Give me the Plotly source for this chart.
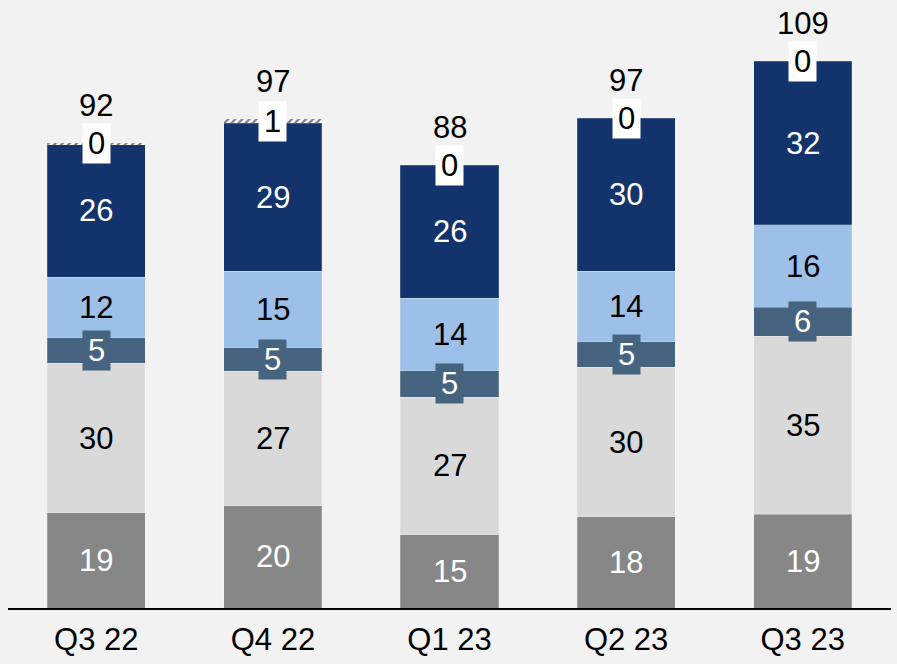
import plotly.graph_objects as go

categories = ["Q3 22", "Q4 22", "Q1 23", "Q2 23", "Q3 23"]
seg_grey = [18.9, 20.3, 14.6, 18.1, 18.6]
seg_lightgrey = [29.8, 26.8, 27.3, 29.8, 35.4]
seg_slate = [5.0, 4.7, 5.3, 5.0, 5.8]
seg_lightblue = [12.1, 15.2, 14.4, 14.1, 16.4]
seg_navy = [26.4, 29.4, 26.4, 30.4, 32.5]
seg_hatch = [0.2, 0.8, 0.0, 0.0, 0.0]
totals = [92, 97, 88, 97, 109]

series = [
    ("grey", seg_grey, "#878787", "white", None),
    ("lightgrey", seg_lightgrey, "#d9d9d9", "black", None),
    ("slate", seg_slate, "#46637f", "white", "#46637f"),
    ("lightblue", seg_lightblue, "#9dc0e8", "black", None),
    ("navy", seg_navy, "#12336b", "white", None),
]

FONT = "Liberation Sans, Arial, sans-serif"
FS = 31

fig = go.Figure()
annotations = []
cum = [0.0] * len(categories)
for name, vals, color, tcolor, bg in series:
    fig.add_trace(go.Bar(x=categories, y=vals, name=name,
                         marker=dict(color=color, line=dict(width=0.8, color="rgba(255,255,255,0.25)")),
                         hoverinfo="skip"))
    for i, v in enumerate(vals):
        mid = cum[i] + v / 2
        a = dict(x=categories[i], y=mid, text=str(round(v)), showarrow=False,
                 font=dict(family=FONT, size=FS, color=tcolor), xanchor="center", yanchor="middle")
        if bg:
            a.update(bgcolor=bg, borderpad=0, width=27, height=39)
        annotations.append(a)
        cum[i] += v

fig.add_trace(go.Bar(x=categories, y=seg_hatch, name="other",
                     marker=dict(color="white", line=dict(width=0),
                                 pattern=dict(shape="/", fgcolor="black", bgcolor="white", size=5, solidity=0.45)),
                     hoverinfo="skip"))
for i, v in enumerate(seg_hatch):
    annotations.append(dict(x=categories[i], y=cum[i] + v / 2, text=str(round(v)), showarrow=False,
                            font=dict(family=FONT, size=FS, color="black"), bgcolor="white", borderpad=0,
                            width=27, height=39, xanchor="center", yanchor="middle"))
    cum[i] += v

for i, t in enumerate(totals):
    annotations.append(dict(x=categories[i], y=cum[i], text=str(t), showarrow=False, yshift=38,
                            font=dict(family=FONT, size=FS, color="black"), xanchor="center", yanchor="middle"))

fig.update_layout(
    barmode="stack",
    bargap=0.445,
    width=897, height=664,
    margin=dict(l=8, r=6, t=0, b=56),
    paper_bgcolor="#f2f2f2",
    plot_bgcolor="#f2f2f2",
    showlegend=False,
    annotations=annotations,
    font=dict(family=FONT, size=FS, color="black"),
    xaxis=dict(showline=True, linecolor="black", linewidth=2, ticks="", showgrid=False,
               ticklabelstandoff=3,
               tickfont=dict(family=FONT, size=FS, color="black")),
    yaxis=dict(range=[0, 120.9], visible=False, showgrid=False),
)

fig.write_html("out.html", config={"displayModeBar": False},
               post_script="document.body.style.margin='0';document.body.style.background='#f2f2f2';")
